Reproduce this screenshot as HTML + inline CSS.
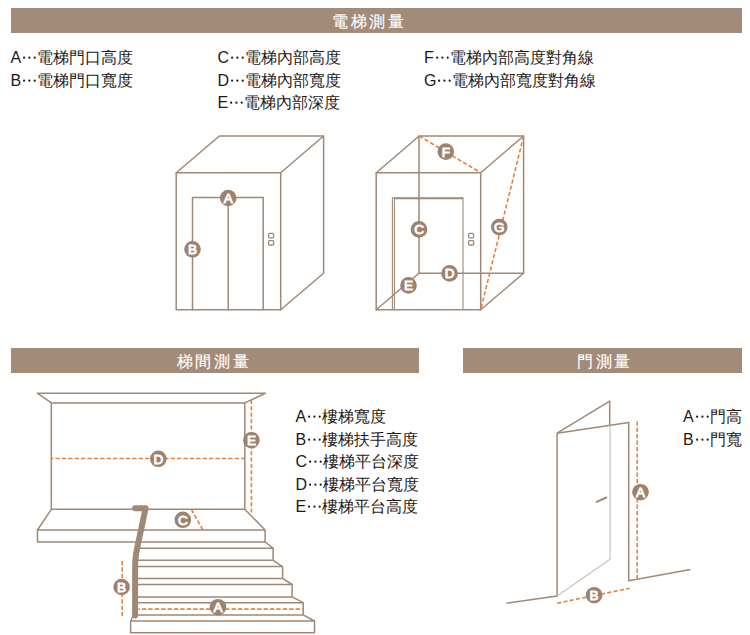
<!DOCTYPE html>
<html><head><meta charset="utf-8">
<style>
html,body{margin:0;padding:0;background:#fff;}
body{width:750px;height:635px;position:relative;overflow:hidden;font-family:"Liberation Sans",sans-serif;color:#231815;}
.bar{position:absolute;background:#a38b79;}
.ht{position:absolute;color:#fff;-webkit-text-stroke:0.15px #fff;font-size:16px;letter-spacing:2.7px;line-height:25px;white-space:nowrap;}
.lg{position:absolute;font-size:16px;line-height:22.6px;white-space:nowrap;}
.el{display:inline-block;width:16px;height:12px;vertical-align:baseline;}
svg.main{position:absolute;left:0;top:0;}
</style></head><body>
<div class="bar" style="left:10.7px;top:7.5px;width:731px;height:25px;"></div>
<div class="ht" style="left:332px;top:9px;">電梯測量</div>
<div class="bar" style="left:10.7px;top:348.3px;width:408.3px;height:24.5px;"></div>
<div class="ht" style="left:176.5px;top:349px;">梯間測量</div>
<div class="bar" style="left:463px;top:348.3px;width:278.7px;height:24.5px;"></div>
<div class="ht" style="left:577px;top:349px;">門測量</div>

<div class="lg" style="left:10.5px;top:47px;">A<svg class="el" width="16" height="12" viewBox="0 0 16 12"><g fill="#231815"><circle cx="3.1" cy="6.7" r="1.1"/><circle cx="8.4" cy="6.7" r="1.1"/><circle cx="13.7" cy="6.7" r="1.1"/></g></svg>電梯門口高度<br>B<svg class="el" width="16" height="12" viewBox="0 0 16 12"><g fill="#231815"><circle cx="3.1" cy="6.7" r="1.1"/><circle cx="8.4" cy="6.7" r="1.1"/><circle cx="13.7" cy="6.7" r="1.1"/></g></svg>電梯門口寬度</div>
<div class="lg" style="left:217.5px;top:47px;">C<svg class="el" width="16" height="12" viewBox="0 0 16 12"><g fill="#231815"><circle cx="3.1" cy="6.7" r="1.1"/><circle cx="8.4" cy="6.7" r="1.1"/><circle cx="13.7" cy="6.7" r="1.1"/></g></svg>電梯內部高度<br>D<svg class="el" width="16" height="12" viewBox="0 0 16 12"><g fill="#231815"><circle cx="3.1" cy="6.7" r="1.1"/><circle cx="8.4" cy="6.7" r="1.1"/><circle cx="13.7" cy="6.7" r="1.1"/></g></svg>電梯內部寬度<br>E<svg class="el" width="16" height="12" viewBox="0 0 16 12"><g fill="#231815"><circle cx="3.1" cy="6.7" r="1.1"/><circle cx="8.4" cy="6.7" r="1.1"/><circle cx="13.7" cy="6.7" r="1.1"/></g></svg>電梯內部深度</div>
<div class="lg" style="left:424px;top:47px;">F<svg class="el" width="16" height="12" viewBox="0 0 16 12"><g fill="#231815"><circle cx="3.1" cy="6.7" r="1.1"/><circle cx="8.4" cy="6.7" r="1.1"/><circle cx="13.7" cy="6.7" r="1.1"/></g></svg>電梯內部高度對角線<br>G<svg class="el" width="16" height="12" viewBox="0 0 16 12"><g fill="#231815"><circle cx="3.1" cy="6.7" r="1.1"/><circle cx="8.4" cy="6.7" r="1.1"/><circle cx="13.7" cy="6.7" r="1.1"/></g></svg>電梯內部寬度對角線</div>
<div class="lg" style="left:295.5px;top:406px;">A<svg class="el" width="16" height="12" viewBox="0 0 16 12"><g fill="#231815"><circle cx="3.1" cy="6.7" r="1.1"/><circle cx="8.4" cy="6.7" r="1.1"/><circle cx="13.7" cy="6.7" r="1.1"/></g></svg>樓梯寬度<br>B<svg class="el" width="16" height="12" viewBox="0 0 16 12"><g fill="#231815"><circle cx="3.1" cy="6.7" r="1.1"/><circle cx="8.4" cy="6.7" r="1.1"/><circle cx="13.7" cy="6.7" r="1.1"/></g></svg>樓梯扶手高度<br>C<svg class="el" width="16" height="12" viewBox="0 0 16 12"><g fill="#231815"><circle cx="3.1" cy="6.7" r="1.1"/><circle cx="8.4" cy="6.7" r="1.1"/><circle cx="13.7" cy="6.7" r="1.1"/></g></svg>樓梯平台深度<br>D<svg class="el" width="16" height="12" viewBox="0 0 16 12"><g fill="#231815"><circle cx="3.1" cy="6.7" r="1.1"/><circle cx="8.4" cy="6.7" r="1.1"/><circle cx="13.7" cy="6.7" r="1.1"/></g></svg>樓梯平台寬度<br>E<svg class="el" width="16" height="12" viewBox="0 0 16 12"><g fill="#231815"><circle cx="3.1" cy="6.7" r="1.1"/><circle cx="8.4" cy="6.7" r="1.1"/><circle cx="13.7" cy="6.7" r="1.1"/></g></svg>樓梯平台高度</div>
<div class="lg" style="left:683px;top:406px;">A<svg class="el" width="16" height="12" viewBox="0 0 16 12"><g fill="#231815"><circle cx="3.1" cy="6.7" r="1.1"/><circle cx="8.4" cy="6.7" r="1.1"/><circle cx="13.7" cy="6.7" r="1.1"/></g></svg>門高<br>B<svg class="el" width="16" height="12" viewBox="0 0 16 12"><g fill="#231815"><circle cx="3.1" cy="6.7" r="1.1"/><circle cx="8.4" cy="6.7" r="1.1"/><circle cx="13.7" cy="6.7" r="1.1"/></g></svg>門寬</div>

<svg class="main" width="750" height="635" viewBox="0 0 750 635">
<defs>
<g id="btn"><rect x="268.6" y="233.4" width="5" height="4.4" rx="1" fill="none" stroke="#a08876" stroke-width="1.3"/><rect x="268.6" y="240.6" width="5" height="4.4" rx="1" fill="none" stroke="#a08876" stroke-width="1.3"/></g>
</defs>
<g fill="none" stroke="#a08876" stroke-width="1.5" stroke-linejoin="round" stroke-linecap="round">
<!-- elevator 1 -->
<path d="M176.2 172.7 H280.7 V309.8 H176.2 Z"/>
<path d="M176.2 172.7 L219.4 136 H323.6 V273.3 L280.7 309.8 M280.7 172.7 L323.6 136"/>
<path d="M192.5 309.8 V197.6 H263.2 V309.8 M228.2 197.6 V309.8"/>
<!-- elevator 2 -->
<path d="M376.2 172.7 H480.7 V309.8 H376.2 Z"/>
<path d="M376.2 172.7 L419.2 136 H523.6 V273.3 L480.7 309.8 M480.7 172.7 L523.6 136"/>
<path d="M419 136 V273.3 H523.6 M376.2 309.8 L419 273.3"/>
</g>
<use href="#btn"/>
<use href="#btn" x="200"/>
<g fill="none" stroke="#a08876" stroke-width="1.1">
<path d="M392.4 309.8 V197.8 H463 V309.8 M394.4 309.8 V198.8 H463"/>
</g>
<!-- dashed elevator 2 -->
<g fill="none" stroke="#e8803a" stroke-width="1.6" stroke-dasharray="4.2 2.2" stroke-dashoffset="0">
<path d="M419.2 136 L480.7 172.7"/>
<path d="M523.6 136 L480.7 309.8"/>
</g>

<!-- stairs -->
<g fill="none" stroke="#a08876" stroke-width="1.5" stroke-linejoin="round">
<path d="M37.3 393.2 H265.3 L244.8 402.9 H51.3 Z"/>
<path d="M51.3 402.9 V509.3 H244.8 V402.9"/>
<path d="M51.3 509.3 L37.5 530 H265.1 L244.8 509.3"/>
<path d="M37.5 530 V542 H265.1 V530"/>
<path d="M137 548.2 H273.1 L265.1 542 M273.1 548.2 V560.3 H137"/>
<path d="M137 566.6 H282.6 L273.1 560.3 M282.6 566.6 V578.4 H137"/>
<path d="M137 584.5 H292.1 L282.6 578.4 M292.1 584.5 V596.9 H137"/>
<path d="M137 602.7 H303.2 L292.1 596.9 M303.2 602.7 V614.9 H137"/>
<path d="M133.5 614.9 L130.6 621 H314.5 L303.2 614.9 M314.5 621 V632.8 H130.6 V621"/>
</g>
<path d="M135.1 508.2 H145.6 L137.8 545 Q135.1 557 135.1 566 V615.5" fill="none" stroke="#a08876" stroke-width="6" stroke-linecap="round" stroke-linejoin="round"/>
<g fill="none" stroke="#e8803a" stroke-width="1.6" stroke-dasharray="4.2 2.2" stroke-dashoffset="0">
<path d="M251.4 399.8 V512.6"/>
<path d="M191.4 509.4 L202.8 529.8"/>
<path d="M122.2 560.9 V616"/>
<path d="M52 458.5 H244" stroke-dashoffset="2.9"/>
<path d="M138.5 609.1 H303" stroke-dashoffset="2.9"/>
</g>

<!-- door -->
<g fill="none" stroke="#a08876" stroke-width="1.5" stroke-linejoin="round">
<path d="M506.4 603.2 L557.1 596 V433.2 L609.7 401.1 V425.3"/>
<path d="M557.1 433.2 L628.7 422.6 V580.8 L690.4 569.6"/>
</g>
<path d="M557.1 596 L610.1 559.2 V425.3" fill="none" stroke="#cdc0b4" stroke-width="1.2"/>
<path d="M596.7 501.8 L606.3 497.5" fill="none" stroke="#a08876" stroke-width="2" stroke-linecap="round"/>
<g fill="none" stroke="#e8803a" stroke-width="1.6" stroke-dasharray="4.2 2.2" stroke-dashoffset="0">
<path d="M637.2 421.4 V578.4"/>
<path d="M557.1 603.2 L629.6 588.3"/>
</g>

<!-- circles -->
<g fill="#9e826e">
<circle cx="228.2" cy="198" r="8.3"/>
<circle cx="192.5" cy="249.3" r="8.3"/>
<circle cx="445.8" cy="151.6" r="8.3"/>
<circle cx="419" cy="229.4" r="8.3"/>
<circle cx="499.3" cy="227.1" r="8.3"/>
<circle cx="449.6" cy="273.4" r="8.3"/>
<circle cx="408.5" cy="285.4" r="8.3"/>
<circle cx="182.8" cy="519.8" r="8.3"/>
<circle cx="158.3" cy="458.8" r="8.3"/>
<circle cx="251.4" cy="440.2" r="8.3"/>
<circle cx="121.6" cy="587" r="8.3"/>
<circle cx="218" cy="607.2" r="8.3"/>
<circle cx="640.5" cy="492.2" r="8.3"/>
<circle cx="594.1" cy="595.2" r="8.3"/>
</g>
<g fill="#fff" font-family="Liberation Sans" font-weight="normal" font-size="13.5" text-anchor="middle" stroke="#fff" stroke-width="0.9">
<text x="228.2" y="203.0">A</text>
<text x="192.5" y="254.3">B</text>
<text x="445.8" y="156.8">F</text>
<text x="419" y="234.4">C</text>
<text x="499.3" y="232.1">G</text>
<text x="449.6" y="278.4">D</text>
<text x="408.5" y="290.3">E</text>
<text x="182.8" y="524.8">C</text>
<text x="158.3" y="463.8">D</text>
<text x="251.4" y="445.2">E</text>
<text x="121.6" y="592.0">B</text>
<text x="218" y="612.2">A</text>
<text x="640.5" y="497.2">A</text>
<text x="594.1" y="600.2">B</text>
</g>
</svg>
</body></html>
